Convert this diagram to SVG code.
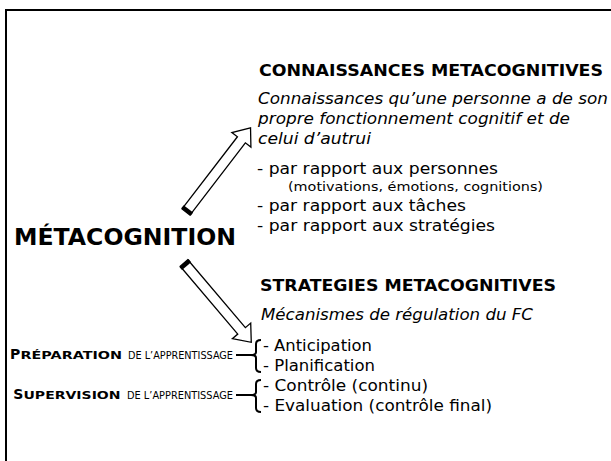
<svg xmlns="http://www.w3.org/2000/svg" width="611" height="461" viewBox="0 0 611 461">
<style>
text{font-family:"DejaVu Sans","Liberation Sans",sans-serif;fill:#000}
.h{font-weight:bold;font-size:16px}
.i{font-style:italic;font-size:15px}
.l{font-size:15px}
.s{font-size:13px}
.m{font-weight:bold;font-size:23px}
.sc{font-size:10px}
.scb{font-size:11px;font-weight:bold}
.sc1{font-size:14px;font-weight:bold}
.arrow{fill:#fff;stroke:#000;stroke-width:1.3;stroke-linejoin:miter}
.brace{fill:none;stroke:#000;stroke-width:2}
</style>
<rect width="611" height="461" fill="#fff"/>
<g id="frame"><path d="M611,10 H6 V461" fill="none" stroke="#000" stroke-width="2"/></g>
<g id="metacognition"><text class="m" x="14" y="245" textLength="222" lengthAdjust="spacingAndGlyphs">MÉTACOGNITION</text></g>
<g id="connaissances">
<text class="h" x="259" y="76" textLength="344" lengthAdjust="spacingAndGlyphs">CONNAISSANCES METACOGNITIVES</text>
<text class="i" x="258" y="104" textLength="350" lengthAdjust="spacingAndGlyphs">Connaissances qu’une personne a de son</text>
<text class="i" x="258" y="124" textLength="312" lengthAdjust="spacingAndGlyphs">propre fonctionnement cognitif et de</text>
<text class="i" x="258" y="144" textLength="113" lengthAdjust="spacingAndGlyphs">celui d’autrui</text>
<text class="l" x="257" y="174" textLength="241" lengthAdjust="spacingAndGlyphs">- par rapport aux personnes</text>
<text class="s" x="288" y="191" textLength="255" lengthAdjust="spacingAndGlyphs">(motivations, émotions, cognitions)</text>
<text class="l" x="257" y="211" textLength="209" lengthAdjust="spacingAndGlyphs">- par rapport aux tâches</text>
<text class="l" x="257" y="231" textLength="238" lengthAdjust="spacingAndGlyphs">- par rapport aux stratégies</text>
</g>
<g id="strategies">
<text class="h" x="260" y="291" textLength="296" lengthAdjust="spacingAndGlyphs">STRATEGIES METACOGNITIVES</text>
<text class="i" x="261" y="320" textLength="272" lengthAdjust="spacingAndGlyphs">Mécanismes de régulation du FC</text>
<text class="l" x="263" y="351" textLength="109" lengthAdjust="spacingAndGlyphs">- Anticipation</text>
<text class="l" x="263" y="371" textLength="112" lengthAdjust="spacingAndGlyphs">- Planification</text>
<text class="l" x="263" y="391" textLength="165" lengthAdjust="spacingAndGlyphs">- Contrôle (continu)</text>
<text class="l" x="263" y="411" textLength="229" lengthAdjust="spacingAndGlyphs">- Evaluation (contrôle final)</text>
</g>
<g id="preparation"><text y="359"><tspan class="sc1" x="10">P</tspan><tspan class="scb" x="20.5" textLength="101.5" lengthAdjust="spacingAndGlyphs">RÉPARATION</tspan><tspan class="sc" x="128" textLength="105" lengthAdjust="spacingAndGlyphs">DE L’APPRENTISSAGE</tspan></text></g>
<g id="supervision"><text y="399"><tspan class="sc1" x="13.3">S</tspan><tspan class="scb" x="23.5" textLength="97" lengthAdjust="spacingAndGlyphs">UPERVISION</tspan><tspan class="sc" x="127" textLength="106" lengthAdjust="spacingAndGlyphs">DE L’APPRENTISSAGE</tspan></text></g>
<g id="connectors">
<g transform="translate(186,212) rotate(-52.5)">
<polygon class="arrow" points="0,-5 91,-5 91,-12 106,0 91,12 91,5 0,5"/>
<rect x="0" y="-6" width="4" height="12"/>
</g>
<g transform="translate(184,263) rotate(49.7)">
<polygon class="arrow" points="0,-5 89,-5 89,-12 104,0 89,12 89,5 0,5"/>
<rect x="0" y="-6" width="4" height="12"/>
</g>
<path class="brace" d="M261,340 Q256,340 256,344 L256,352 Q256,355 251,355 Q256,355 256,358 L256,368 Q256,372 261,372 M236,355 H251"/>
<path class="brace" d="M261,380 Q256,380 256,384 L256,392 Q256,395 251,395 Q256,395 256,398 L256,408 Q256,412 261,412 M236,395 H251"/>
</g>
</svg>
